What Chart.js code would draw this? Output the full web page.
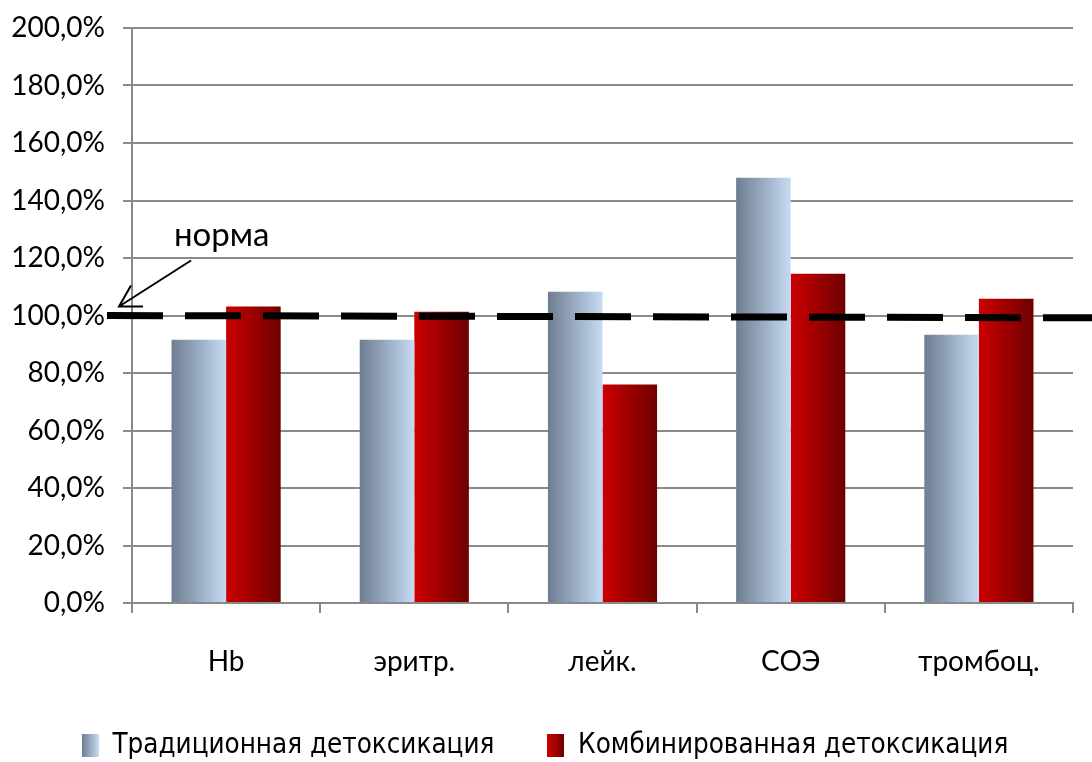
<!DOCTYPE html>
<html lang="ru">
<head>
<meta charset="utf-8">
<title>Показатели крови</title>
<script src="https://cdn.jsdelivr.net/npm/chart.js@4.4.1/dist/chart.umd.min.js"></script>
<style>
  html, body { margin: 0; padding: 0; background: #ffffff; }
  #wrap { width: 1092px; height: 762px; position: relative; }
</style>
</head>
<body>
<div id="wrap"><canvas id="chart" width="1092" height="762"></canvas></div>
<script>
// Categories (blood indices) and the two treatment series, % of norm
const categories = ['Hb', 'эритр.', 'лейк.', 'СОЭ', 'тромбоц.'];
const seriesNames = ['Традиционная детоксикация', 'Комбинированная детоксикация'];
const traditional = [91.6, 91.6, 108.3, 147.9, 93.3];
const combined = [103.1, 101.3, 76.0, 114.5, 105.8];

// Y axis range and tick step
const yMin = 0;
const yMax = 200;
const yStep = 20;

// Norm reference line (start and end level of the dashed line)
const normLabel = 'норма';
const normStart = 100;
const normEnd = 99.2;

// Gradient stops: [left edge colour, right edge colour]
const gradBlue = ['#6e7d91', '#c6dbf3'];
const gradRed = ['#cc0000', '#6e0000'];

const GRID = '#8a8a8a';
const AXIS_FONT = { family: 'Lato, "Open Sans", sans-serif', size: 28 };
const LEGEND_FONT = { family: '"DejaVu Sans Condensed", "Liberation Sans Narrow", sans-serif', size: 27.5 };

function swatch(stops) {
  const c = document.createElement('canvas');
  c.width = 17; c.height = 23;
  const g = c.getContext('2d');
  const lg = g.createLinearGradient(0, 0, 17, 0);
  lg.addColorStop(0, stops[0]);
  lg.addColorStop(1, stops[1]);
  g.fillStyle = lg;
  g.fillRect(0, 0, 17, 23);
  return c;
}
const swatches = [swatch(gradBlue), swatch(gradRed)];
const stopsByDataset = [gradBlue, gradRed];

// Horizontal gradient across each individual bar
const barGradient = {
  id: 'barGradient',
  beforeDatasetsDraw(chart) {
    const ctx = chart.ctx;
    chart.data.datasets.forEach((ds, di) => {
      const meta = chart.getDatasetMeta(di);
      meta.data.forEach(el => {
        const p = el.getProps(['x', 'width'], true);
        const g = ctx.createLinearGradient(p.x - p.width / 2, 0, p.x + p.width / 2, 0);
        g.addColorStop(0, stopsByDataset[di][0]);
        g.addColorStop(1, stopsByDataset[di][1]);
        el.options = Object.assign({}, el.options, { backgroundColor: g });
      });
    });
  }
};

// Dashed norm line with its label and arrow
const normLine = {
  id: 'normLine',
  afterDatasetsDraw(chart) {
    const { ctx, chartArea, scales } = chart;
    const y1 = scales.y.getPixelForValue(normStart);
    const y2 = scales.y.getPixelForValue(normEnd);
    const x1 = chartArea.left - 25;
    const x2 = chart.width;
    ctx.save();
    ctx.strokeStyle = '#000000';
    ctx.lineWidth = 7;
    ctx.lineCap = 'butt';
    ctx.setLineDash([56, 22]);
    ctx.beginPath();
    ctx.moveTo(x1, y1);
    ctx.lineTo(x2, y2);
    ctx.stroke();
    ctx.setLineDash([]);

    const L = chartArea.left;
    ctx.lineWidth = 2;
    ctx.beginPath();
    ctx.moveTo(L + 59, y1 - 55);
    ctx.lineTo(L - 13, y1 - 9);
    ctx.moveTo(L - 1, y1 - 30);
    ctx.lineTo(L - 13, y1 - 9);
    ctx.lineTo(L + 11, y1 - 9);
    ctx.stroke();

    ctx.fillStyle = '#000000';
    ctx.font = '33px Lato, "Open Sans", sans-serif';
    ctx.textAlign = 'left';
    ctx.textBaseline = 'alphabetic';
    ctx.fillText(normLabel, L + 42, y1 - 70);
    ctx.restore();
  }
};

new Chart(document.getElementById('chart'), {
  type: 'bar',
  data: {
    labels: categories,
    datasets: [
      { label: seriesNames[0], data: traditional, backgroundColor: gradBlue[1], borderWidth: 0 },
      { label: seriesNames[1], data: combined, backgroundColor: gradRed[0], borderWidth: 0 }
    ]
  },
  options: {
    responsive: false,
    animation: false,
    events: [],
    datasets: { bar: { categoryPercentage: 0.58, barPercentage: 1.0 } },
    layout: { padding: { top: 28, right: 2, bottom: 0, left: 0 } },
    scales: {
      x: {
        grid: { display: true, drawOnChartArea: false, drawTicks: true, tickLength: 10, color: GRID, lineWidth: 2, offset: true },
        border: { display: true, color: GRID, width: 2 },
        ticks: { color: '#000000', font: AXIS_FONT, padding: 32, maxRotation: 0 },
        afterFit(scale) {
          scale.height = 76;
          scale.paddingLeft = 0;
          scale.paddingRight = 19;
        }
      },
      y: {
        min: yMin,
        max: yMax,
        grid: { color: GRID, lineWidth: 2, tickLength: 9 },
        border: { display: true, color: GRID, width: 2 },
        ticks: {
          stepSize: yStep,
          color: '#000000',
          font: AXIS_FONT,
          padding: 18,
          callback: v => v.toFixed(1).replace('.', ',') + '%'
        },
        afterFit(scale) {
          scale.width = 132;
          scale.paddingTop = 0;
          scale.paddingBottom = 0;
        }
      }
    },
    plugins: {
      tooltip: { enabled: false },
      legend: {
        position: 'bottom',
        maxHeight: 83,
        labels: {
          color: '#000000',
          font: LEGEND_FONT,
          usePointStyle: true,
          boxWidth: 17,
          boxHeight: 23,
          padding: 53,
          generateLabels(chart) {
            return chart.data.datasets.map((ds, i) => ({
              text: ds.label,
              pointStyle: swatches[i],
              fillStyle: stopsByDataset[i][1],
              strokeStyle: 'transparent',
              lineWidth: 0,
              hidden: false,
              datasetIndex: i,
              fontColor: '#000000'
            }));
          }
        }
      }
    }
  },
  plugins: [barGradient, normLine]
});
</script>
</body>
</html>
